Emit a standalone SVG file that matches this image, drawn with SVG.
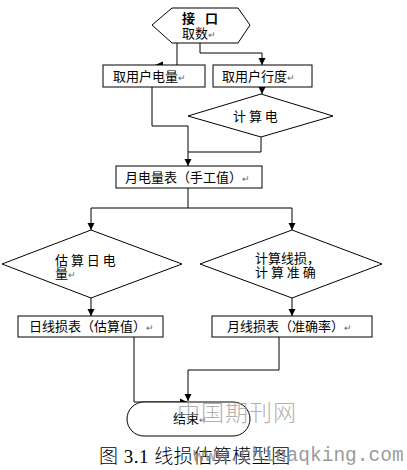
<svg xmlns="http://www.w3.org/2000/svg" width="407" height="470" viewBox="0 0 407 470">
<style>
.s{fill:#fff;stroke:#000;stroke-width:1}
.t{font-family:"Noto Sans CJK SC","Noto Sans",sans-serif;font-size:13px;fill:#000}
.r{font-size:9px;fill:#666}
.c{fill:none;stroke:#000;stroke-width:1}
</style>
<defs>
<marker id="a" markerUnits="userSpaceOnUse" markerWidth="8" markerHeight="8" refX="7" refY="4" orient="auto">
<path d="M0,0.5 L7,4 L0,7.5 Z" fill="#000"/>
</marker>
</defs>
<rect width="407" height="470" fill="#fff"/>
<g id="connectors">
<path class="c" d="M177,43 V65"/>
<polygon points="155,65 163,61.5 163,68.5" fill="#000"/>
<path class="c" d="M200,43 V53 H262 V65" marker-end="url(#a)"/>
<path class="c" d="M262,87 V94" marker-end="url(#a)"/>
<path class="c" d="M152,87 V126 H188 V166" marker-end="url(#a)"/>
<path class="c" d="M261,137 V152 H188"/>
<path class="c" d="M188,188 V208 M91,208 H292"/>
<path class="c" d="M91,208 V230" marker-end="url(#a)"/>
<path class="c" d="M292,208 V230" marker-end="url(#a)"/>
<path class="c" d="M91,298 V316" marker-end="url(#a)"/>
<path class="c" d="M292,298 V316" marker-end="url(#a)"/>
<path class="c" d="M134,337 V402 H187" marker-end="url(#a)"/>
<path class="c" d="M279,337 V370 H188 V401" marker-end="url(#a)"/>
</g>
<g id="start">
<polygon class="s" points="152,25 172,8 238,8 250,25 238,43 172,43"/>
<text class="t" y="23" font-weight="bold"><tspan x="182">接</tspan><tspan x="205">口</tspan></text>
<text class="t" x="182" y="38">取数<tspan class="r">↵</tspan></text>
</g>
<g id="getUsage">
<rect class="s" x="103" y="65" width="102" height="22"/>
<text class="t" x="113" y="81">取用户电量<tspan class="r">↵</tspan></text>
</g>
<g id="getReading">
<rect class="s" x="213" y="65" width="99" height="22"/>
<text class="t" x="222" y="81">取用户行度<tspan class="r">↵</tspan></text>
</g>
<g id="calcElec">
<polygon class="s" points="188,116 261,94 333,116 261,137"/>
<text class="t" x="233" y="120.5">计 算 电</text>
</g>
<g id="monthTable">
<rect class="s" x="116" y="166" width="146" height="22"/>
<text class="t" x="125" y="182">月电量表（手工值）<tspan class="r">↵</tspan></text>
</g>
<g id="estDaily">
<polygon class="s" points="2,264 91,230 182,264 91,298"/>
<text class="t" x="55" y="264.5">估 算 日 电</text>
<text class="t" x="55" y="278">量<tspan class="r">↵</tspan></text>
</g>
<g id="calcLoss">
<polygon class="s" points="200,264 292,230 382,264 292,298"/>
<text class="t" x="255" y="263">计算线损，</text>
<text class="t" x="255" y="277">计 算 准 确</text>
</g>
<g id="dailyLoss">
<rect class="s" x="18" y="316" width="145" height="21"/>
<text class="t" x="29" y="331">日线损表（估算值）<tspan class="r">↵</tspan></text>
</g>
<g id="monthLoss">
<rect class="s" x="212" y="316" width="160" height="21"/>
<text class="t" x="227" y="331">月线损表（准确率）<tspan class="r">↵</tspan></text>
</g>
<g id="end">
<rect class="s" x="127" y="402" width="123" height="34" rx="17"/>
<text class="t" x="173" y="423">结束<tspan class="r">↵</tspan></text>
</g>
<text x="177" y="421" font-family="'Noto Sans CJK SC',sans-serif" font-size="23" font-weight="300" fill="#999" fill-opacity="0.8" letter-spacing="1">中国期刊网</text>
<text x="99" y="463" font-family="'Liberation Serif','Noto Sans CJK SC',serif" font-size="19" font-weight="300" fill="#000" letter-spacing="0.5">图 3.1 线损估算模型图</text>
<text x="193" y="461" font-family="'Liberation Mono','DejaVu Sans Mono',monospace" font-size="19.5" fill="#888" fill-opacity="0.85">www.chinaqking.com</text>
</svg>
